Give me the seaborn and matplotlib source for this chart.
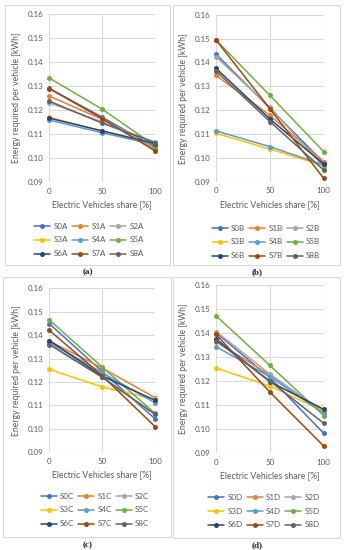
import numpy as np
import pandas as pd
import matplotlib
matplotlib.use("Agg")
import matplotlib.pyplot as plt
from matplotlib.patches import Rectangle
import seaborn as sns

sns.set_style("white")
plt.rcParams['font.family'] = ['Lato', 'DejaVu Sans']

shares = [0, 50, 100]
series_idx = ["S0", "S1", "S2", "S3", "S4", "S5", "S6", "S7", "S8"]
colors = ["#4472C4", "#ED7D31", "#A5A5A5", "#FFC000", "#5B9BD5",
          "#70AD47", "#264478", "#9E480E", "#636363"]

# Panel (a)
vals_a = [
    [0.1290, 0.1170, 0.1044],  # S0A
    [0.1258, 0.1161, 0.1035],  # S1A
    [0.1230, 0.1150, 0.1065],  # S2A
    [0.1170, 0.1112, 0.1058],  # S3A
    [0.1158, 0.1105, 0.1055],  # S4A
    [0.1333, 0.1203, 0.1050],  # S5A
    [0.1166, 0.1113, 0.1060],  # S6A
    [0.1289, 0.1164, 0.1029],  # S7A
    [0.1237, 0.1145, 0.1064],  # S8A
]
# Panel (b)
vals_b = [
    [0.1435, 0.1208, 0.0980],  # S0B
    [0.1346, 0.1178, 0.0984],  # S1B
    [0.1424, 0.1212, 0.0963],  # S2B
    [0.1103, 0.1037, 0.0967],  # S3B
    [0.1113, 0.1047, 0.0970],  # S4B
    [0.1494, 0.1262, 0.1026],  # S5B
    [0.1375, 0.1163, 0.0974],  # S6B
    [0.1494, 0.1206, 0.0914],  # S7B
    [0.1364, 0.1152, 0.0949],  # S8B
]
# Panel (c)
vals_c = [
    [0.1449, 0.1245, 0.1043],  # S0C
    [0.1375, 0.1260, 0.1133],  # S1C
    [0.1364, 0.1222, 0.1062],  # S2C
    [0.1254, 0.1179, 0.1127],  # S3C
    [0.1370, 0.1240, 0.1111],  # S4C
    [0.1465, 0.1264, 0.1066],  # S5C
    [0.1377, 0.1226, 0.1122],  # S6C
    [0.1421, 0.1227, 0.1010],  # S7C
    [0.1360, 0.1220, 0.1062],  # S8C
]
# Panel (d)
vals_d = [
    [0.1401, 0.1214, 0.0982],  # S0D
    [0.1364, 0.1225, 0.1072],  # S1D
    [0.1406, 0.1229, 0.1068],  # S2D
    [0.1254, 0.1179, 0.1075],  # S3D
    [0.1343, 0.1218, 0.1065],  # S4D
    [0.1472, 0.1265, 0.1056],  # S5D
    [0.1375, 0.1197, 0.1082],  # S6D
    [0.1394, 0.1154, 0.0929],  # S7D
    [0.1368, 0.1200, 0.1024],  # S8D
]
yticks = [0.09, 0.10, 0.11, 0.12, 0.13, 0.14, 0.15, 0.16]
xticks = [0, 50, 100]
panel_letters = ["A", "B", "C", "D"]
panel_labels = ["(a)", "(b)", "(c)", "(d)"]
all_vals = [vals_a, vals_b, vals_c, vals_d]

W, H = 344, 550
fig = plt.figure(figsize=(W / 100, H / 100), dpi=100)

def fx(x):
    return x / W

def fy(y):
    return 1 - y / H

# plot rect (left, right, top, bottom) in px
plot_rects = [
    (49.3, 155.3, 14.0, 182.0),
    (216.0, 323.7, 14.7, 181.7),
    (49.3, 155.0, 288.3, 452.3),
    (216.0, 323.7, 285.0, 453.0),
]
boxes = [
    (5, 170, 5, 265),
    (173, 340, 5, 265),
    (3, 171, 277, 537),
    (173, 340, 277, 538),
]
legend_centers = [(89, 240), (266, 242), (95, 510), (264, 511)]
label_pos = [(88, 272), (257, 272), (88, 545), (257, 545)]

grid_c = "#D9D9D9"
txt_c = "#595959"
fs = 5.8
# row-major display order for a 3-column legend (matplotlib fills column-wise)
leg_order = [0, 3, 6, 1, 4, 7, 2, 5, 8]

for i in range(4):
    bl, br, bt, bb = boxes[i]
    fig.patches.append(Rectangle((fx(bl), fy(bb)), fx(br - bl), (bb - bt) / H,
                                 transform=fig.transFigure, fill=False,
                                 edgecolor=grid_c, linewidth=0.8, zorder=0))
    l, r, t, b = plot_rects[i]
    ax = fig.add_axes([fx(l), fy(b), fx(r - l), (b - t) / H])
    letter = panel_letters[i]
    rows = []
    for s, vals in zip(series_idx, all_vals[i]):
        for xv, yv in zip(shares, vals):
            rows.append({"share": xv, "energy": yv, "series": s + letter})
    df = pd.DataFrame(rows)
    hue_order = [s + letter for s in series_idx]
    sns.lineplot(data=df, x="share", y="energy", hue="series",
                 hue_order=hue_order, palette=colors, marker="o",
                 markersize=3.6, markeredgewidth=0, linewidth=1.1,
                 ax=ax, legend=True)
    handles, labels = ax.get_legend_handles_labels()
    ax.get_legend().remove()
    handles = [handles[k] for k in leg_order]
    labels = [labels[k] for k in leg_order]
    ax.set_xlim(0, 100)
    ax.set_ylim(0.09, 0.16)
    ax.set_xticks(xticks)
    ax.set_yticks(yticks)
    ax.set_yticklabels([f"{v:.2f}" for v in yticks])
    ax.grid(True, color=grid_c, linewidth=0.8)
    ax.set_axisbelow(True)
    for sp in ax.spines.values():
        sp.set_visible(False)
    ax.tick_params(axis="both", labelsize=fs, colors=txt_c, length=0, pad=4)
    ax.set_xlabel("Electric Vehicles share [%]", fontsize=fs + 0.4, color=txt_c, labelpad=4)
    ax.set_ylabel("Energy required per vehicle [kWh]", fontsize=fs + 0.4, color=txt_c, labelpad=5)
    for line in ax.lines:
        line.set_clip_on(False)
    cx, cy = legend_centers[i]
    leg = ax.legend(handles, labels, ncol=3, loc="center",
                    bbox_to_anchor=(fx(cx), fy(cy)), bbox_transform=fig.transFigure,
                    frameon=False, fontsize=fs, handlelength=2.0,
                    handletextpad=0.4, columnspacing=0.5, labelspacing=0.85,
                    borderpad=0)
    for t in leg.get_texts():
        t.set_color(txt_c)
    lx, ly = label_pos[i]
    fig.text(fx(lx), fy(ly), panel_labels[i], ha="center", va="center",
             fontsize=6.5, fontweight="bold", family="Liberation Serif", color="#222222")

fig.savefig("out.png", dpi=100)
